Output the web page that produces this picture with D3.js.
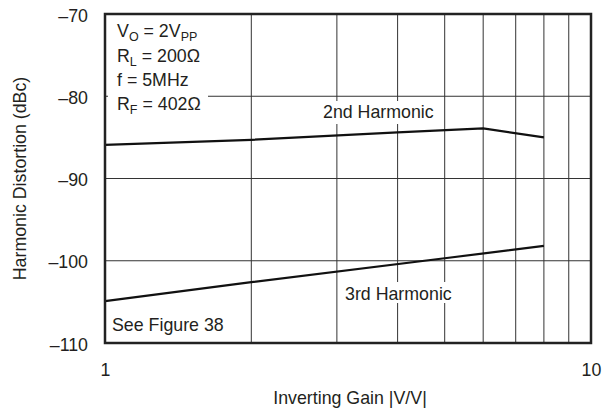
<!DOCTYPE html>
<html>
<head>
<meta charset="utf-8">
<script src="https://cdn.jsdelivr.net/npm/d3@7"></script>
<style>
  html, body { margin: 0; padding: 0; background: #fff; }
  svg { display: block; }
  text { font-family: "Liberation Sans", Arial, Helvetica, sans-serif; fill: #231f20; }
</style>
</head>
<body>
<svg id="chart" width="613" height="411"></svg>
<script>
// ---- data ----
const gain2nd = [1, 2, 4, 6, 8];
const dist2nd = [-85.9, -85.3, -84.4, -83.9, -85.0];
const gain3rd = [1, 2, 5, 8];
const dist3rd = [-104.9, -102.6, -99.7, -98.2];
const xTickValues = [1, 10];
const xTickLabels = ["1", "10"];
const yTickValues = [-70, -80, -90, -100, -110];
const yTickLabels = ["–70", "–80", "–90", "–100", "–110"];
const xGridValues = [2, 3, 4, 5, 6, 7, 8, 9];
const yGridValues = [-80, -90, -100];
const conditions = [
  ["V", "O", " = 2V", "PP"],
  ["R", "L", " = 200Ω", ""],
  ["f = 5MHz", "", "", ""],
  ["R", "F", " = 402Ω", ""]
];

// ---- layout ----
const svg = d3.select("#chart");
const L = 105, R = 591, T = 14, B = 343;
const x = d3.scaleLog().domain([1, 10]).range([L, R]);
const y = d3.scaleLinear().domain([-110, -70]).range([B, T]);
const FS = 17.8;

// grid
const g = svg.append("g");
g.selectAll(".vg").data(xGridValues).enter().append("line")
  .attr("x1", d => x(d)).attr("x2", d => x(d))
  .attr("y1", T).attr("y2", B)
  .attr("stroke", "#333").attr("stroke-width", 1);
g.selectAll(".hg").data(yGridValues).enter().append("line")
  .attr("x1", L).attr("x2", R)
  .attr("y1", d => y(d)).attr("y2", d => y(d))
  .attr("stroke", "#333").attr("stroke-width", 1);

// white boxes behind annotations
const boxes = [
  [108, 18, 100, 101],
  [319, 101, 122, 23],
  [342, 282, 116, 21]
];
g.selectAll(".box").data(boxes).enter().append("rect")
  .attr("x", d => d[0]).attr("y", d => d[1])
  .attr("width", d => d[2]).attr("height", d => d[3])
  .attr("fill", "#fff");

// curves
const line = d3.line().x(d => x(d[0])).y(d => y(d[1]));
svg.append("path").datum(gain2nd.map((v, i) => [v, dist2nd[i]]))
  .attr("d", line).attr("fill", "none").attr("stroke", "#111").attr("stroke-width", 2.2);
svg.append("path").datum(gain3rd.map((v, i) => [v, dist3rd[i]]))
  .attr("d", line).attr("fill", "none").attr("stroke", "#111").attr("stroke-width", 2.2);

// frame
svg.append("rect").attr("x", L).attr("y", T).attr("width", R - L).attr("height", B - T)
  .attr("fill", "none").attr("stroke", "#222").attr("stroke-width", 2.5);

// y axis labels
const yAxis = d3.axisLeft(y).tickValues(yTickValues)
  .tickFormat((d, i) => yTickLabels[i]).tickSize(0).tickPadding(17);
const ya = svg.append("g").attr("transform", `translate(${L},0)`).call(yAxis);
ya.select(".domain").remove();
ya.selectAll("text").attr("font-size", FS).attr("font-family", null).attr("fill", "#231f20")
  .attr("dy", "0.4em");

// x axis labels
const xAxis = d3.axisBottom(x).tickValues(xTickValues)
  .tickFormat((d, i) => xTickLabels[i]).tickSize(0).tickPadding(20);
const xa = svg.append("g").attr("transform", `translate(0,${B})`).call(xAxis);
xa.select(".domain").remove();
xa.selectAll("text").attr("font-size", FS).attr("font-family", null).attr("fill", "#231f20");

// axis titles
svg.append("text").attr("x", 350).attr("y", 404).attr("text-anchor", "middle")
  .attr("font-size", FS).text("Inverting Gain |V/V|");
svg.append("text").attr("transform", `translate(26,${(T + B) / 2}) rotate(-90)`)
  .attr("text-anchor", "middle").attr("font-size", FS).text("Harmonic Distortion (dBc)");

// conditions block
const baselines = [37, 61.5, 86, 110];
conditions.forEach((c, i) => {
  const t = svg.append("text").attr("x", 117).attr("y", baselines[i]).attr("font-size", FS);
  t.append("tspan").text(c[0]);
  if (c[1]) t.append("tspan").attr("font-size", 12.5).attr("dy", 4).text(c[1]);
  if (c[2]) t.append("tspan").attr("dy", c[1] ? -4 : 0).text(c[2]);
  if (c[3]) t.append("tspan").attr("font-size", 12.5).attr("dy", 4).text(c[3]);
});

// series labels
svg.append("text").attr("x", 323).attr("y", 118).attr("font-size", FS).text("2nd Harmonic");
svg.append("text").attr("x", 345).attr("y", 300).attr("font-size", FS).text("3rd Harmonic");
svg.append("text").attr("x", 112).attr("y", 331).attr("font-size", FS).text("See Figure 38");
</script>
</body>
</html>
